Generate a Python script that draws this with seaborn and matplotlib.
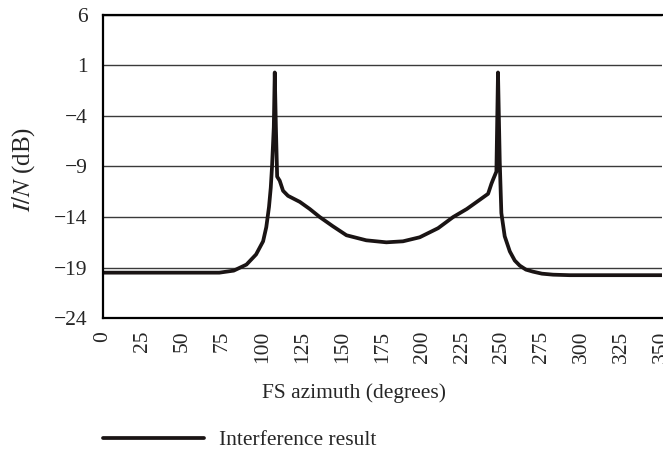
import numpy as np
import pandas as pd
import seaborn as sns
import matplotlib.pyplot as plt

# values
azimuth = [0, 20, 40, 60, 73, 82, 90, 96, 100.4, 102.4, 104.1, 105.2, 106, 107.1, 107.7,
           108.4, 109.2, 110.8, 112.9, 116, 123.4, 129.6, 135.9, 144, 152.6, 165, 177.6,
           188, 198.5, 210, 219.4, 228, 236, 241.3, 243.4, 244.4, 246.5, 247.5,
           248.6, 249.6, 251.7, 254.9, 258, 261.1, 265, 269.4, 275, 282, 292.4, 310, 330, 350]
in_ratio = [-19.5, -19.5, -19.5, -19.5, -19.5, -19.3, -18.7, -17.7, -16.4, -15.0, -13.0, -11.1, -9.0, -5.1, 0.3,
            -5.0, -10.0, -10.4, -11.4, -11.9, -12.5, -13.2, -14.0, -14.9, -15.8, -16.3, -16.5,
            -16.4, -16.0, -15.1, -14.0, -13.2, -12.3, -11.7, -10.7, -10.3, -9.5, 0.3,
            -8.5, -13.6, -15.9, -17.4, -18.3, -18.8, -19.2, -19.4, -19.6, -19.7, -19.75, -19.75, -19.75, -19.75]
x_ticks = list(range(0, 351, 25))
y_ticks = [6, 1, -4, -9, -14, -19, -24]

df = pd.DataFrame({'azimuth': azimuth, 'I/N': in_ratio})

sns.set_theme(style="white")
plt.rcParams['font.family'] = ['Liberation Serif', 'DejaVu Serif']
plt.rcParams['mathtext.fontset'] = 'stix'
fs = 15.5

fig = plt.figure(figsize=(6.63, 4.5), dpi=100)
ax = fig.add_axes([0.155, 0.293, 0.843, 0.674])

sns.lineplot(data=df, x='azimuth', y='I/N', color='#1a1414', linewidth=2.7,
             label='Interference result', ax=ax)

ax.set_xlim(0, 350)
ax.set_ylim(-24, 6)
ax.set_xticks(x_ticks)
ax.set_yticks(y_ticks)
ax.set_xticklabels([str(t) for t in x_ticks], rotation=90, fontsize=fs)
ax.set_yticklabels([str(t).replace('-', '\u2212') for t in y_ticks], fontsize=fs)
ax.tick_params(axis='y', length=0, pad=11)
ax.tick_params(axis='x', length=0, pad=9)
ax.grid(axis='y', color='#3a3a3a', linewidth=1.0)
ax.grid(axis='x', visible=False)
for s in ['left', 'top', 'bottom']:
    ax.spines[s].set_color('black')
    ax.spines[s].set_linewidth(1.6)
ax.spines['right'].set_visible(False)

ax.set_xlabel('FS azimuth (degrees)', fontsize=fs)
ax.xaxis.set_label_coords(0.45, -0.215)
ax.set_ylabel('$I/N$ (dB)', fontsize=18)
ax.yaxis.set_label_coords(-0.118, 0.49)

ax.legend(loc='center left', bbox_to_anchor=(0.0, -0.403), frameon=False,
          borderpad=0, borderaxespad=0, handlelength=4.7, handletextpad=0.7,
          fontsize=fs)

plt.savefig('out.png', dpi=100)
plt.close()
